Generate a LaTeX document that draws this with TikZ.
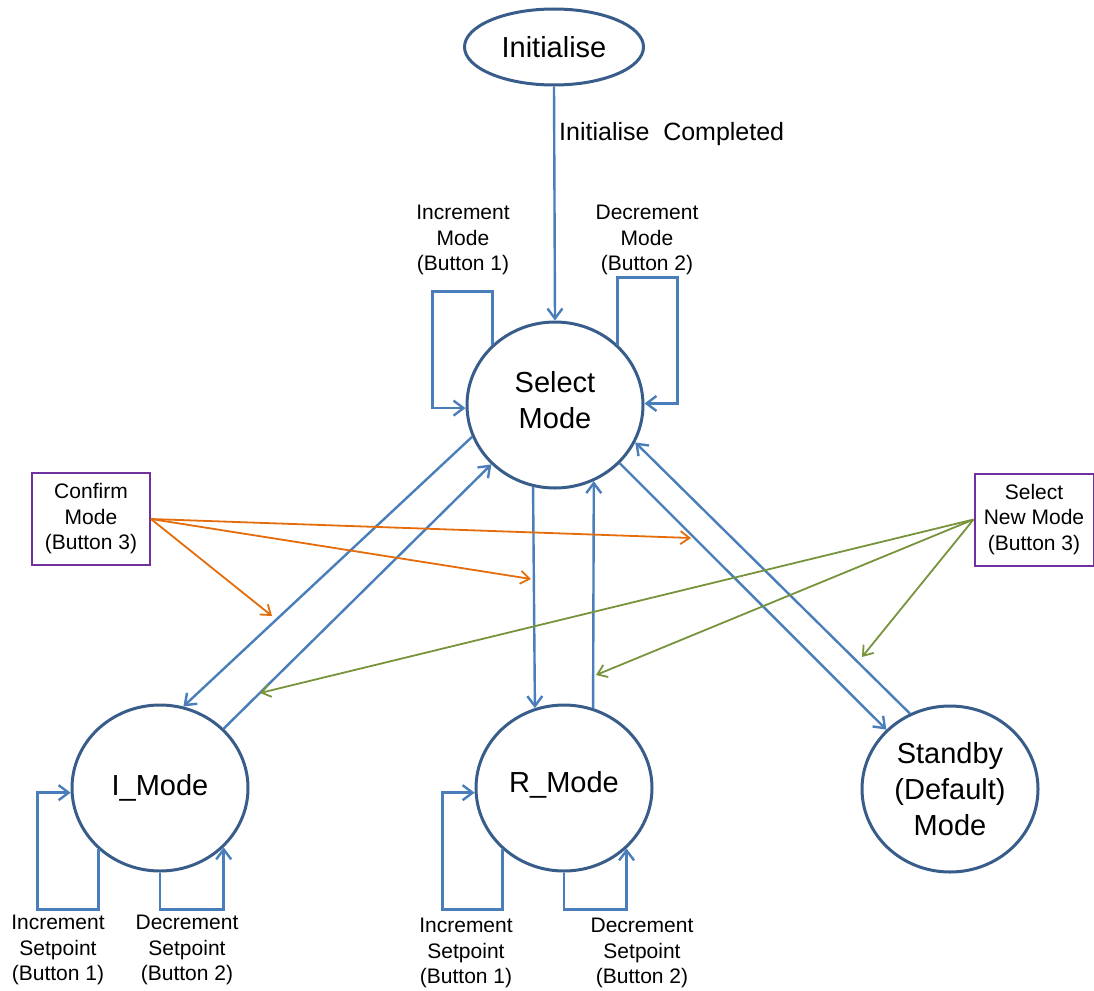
\documentclass[tikz,border=0pt]{standalone}
\usepackage{fontspec}
\setmainfont{Liberation Sans}
\usetikzlibrary{arrows.meta,shapes.geometric}
\definecolor{outl}{HTML}{385D8A}
\definecolor{conn}{HTML}{4A7EBB}
\definecolor{orng}{HTML}{E46C0A}
\definecolor{grn}{HTML}{77933C}
\definecolor{purp}{HTML}{7030A0}
\begin{document}
\begin{tikzpicture}[x=1pt,y=-1pt,
  state/.style={ellipse, draw=outl, line width=3pt, fill=white, minimum width=176pt, minimum height=166pt, inner sep=0pt, align=center, font=\fontsize{29}{36}\selectfont},
  trans/.style={draw=conn, line width=2.4pt, -{Straight Barb[length=10pt,width=15pt]}},
  lbl/.style={align=center, inner sep=0pt, font=\fontsize{21}{25.5}\selectfont},
  btn/.style={draw=purp, line width=2pt, fill=white, align=center, inner sep=0pt, minimum width=118pt, minimum height=92pt, font=\fontsize{21}{25.5}\selectfont},
  otr/.style={draw=orng, line width=1.8pt, -{Straight Barb[length=9pt,width=13pt]}},
  gtr/.style={draw=grn, line width=1.8pt, -{Straight Barb[length=9pt,width=13pt]}}
]
\useasboundingbox (0,0) rectangle (1094,990);

% states
\node[state, minimum width=179pt, minimum height=76pt] (init) at (554,47) {Initialise};
\node[state] (sel) at (555,405) {Select\\Mode\rule[-11pt]{0pt}{0pt}};
\node[state] (imode) at (160,788) {I\_Mode\rule[-6pt]{0pt}{0pt}};
\node[state] (rmode) at (564,788) {R\_Mode\rule[-12pt]{0pt}{0pt}};
\node[state] (sb) at (950,789) {Standby\\(Default)\\Mode};

% trigger boxes
\node[btn] (cbox) at (91,519) {Confirm\\Mode\\(Button 3)};
\node[btn, minimum width=119pt] (nbox) at (1034,519.5) {Select\\New Mode\\(Button 3)};

% initial transition
\draw[trans] (init.south) -- (sel.north);
\node[anchor=west, inner sep=0pt, font=\fontsize{25}{30}\selectfont] (ilbl) at (559,134) {Initialise\hspace{0.55em}Completed};

% select mode self loops
\draw[trans] (sel.136) -- ++(0,-53) -- ++(-60,0) |- (sel.182);
\draw[trans] (sel.44) -- ++(0,-67) -- ++(60,0) |- (sel.1);
\node[lbl] (lsinc) at (463,240) {Increment\\Mode\\(Button 1)};
\node[lbl] (lsdec) at (647,240) {Decrement\\Mode\\(Button 2)};

% transitions between modes
\draw[trans] (sel.201) -- (imode.74);
\draw[trans] (imode.43) -- (sel.223);
\draw[trans] (sel.255) -- (rmode.110);
\draw[trans] (rmode.70) -- (sel.297);
\draw[trans] (sel.318) -- (sb.137);
\draw[trans] (sb.118) -- (sel.335);

% I_Mode loops
\draw[trans] (imode.225) -- ++(0,60) -- ++(-61,0) |- (imode.183);
\draw[trans] (imode.south) -- ++(0,37) -| (imode.317);
\node[lbl] (liinc) at (58,950) {Increment\\Setpoint\\(Button 1)};
\node[lbl] (lidec) at (187,950) {Decrement\\Setpoint\\(Button 2)};

% R_Mode loops
\draw[trans] (rmode.225) -- ++(0,60) -- ++(-60,0) |- (rmode.183);
\draw[trans] (rmode.south) -- ++(0,37) -| (rmode.316);
\node[lbl] (lrinc) at (466,953) {Increment\\Setpoint\\(Button 1)};
\node[lbl] (lrdec) at (642,953) {Decrement\\Setpoint\\(Button 2)};

% confirm (orange) arrows
\coordinate (o1) at (691,538);
\coordinate (o2) at (531,579);
\coordinate (o3) at (272,616);
\draw[otr] (cbox.east) -- (o1);
\draw[otr] (cbox.east) -- (o2);
\draw[otr] (cbox.east) -- (o3);

% select new mode (green) arrows
\coordinate (g1) at (260,693);
\coordinate (g2) at (596,675);
\coordinate (g3) at (862,657);
\draw[gtr] (nbox.west) -- (g1);
\draw[gtr] (nbox.west) -- (g2);
\draw[gtr] (nbox.west) -- (g3);
\end{tikzpicture}
\end{document}
